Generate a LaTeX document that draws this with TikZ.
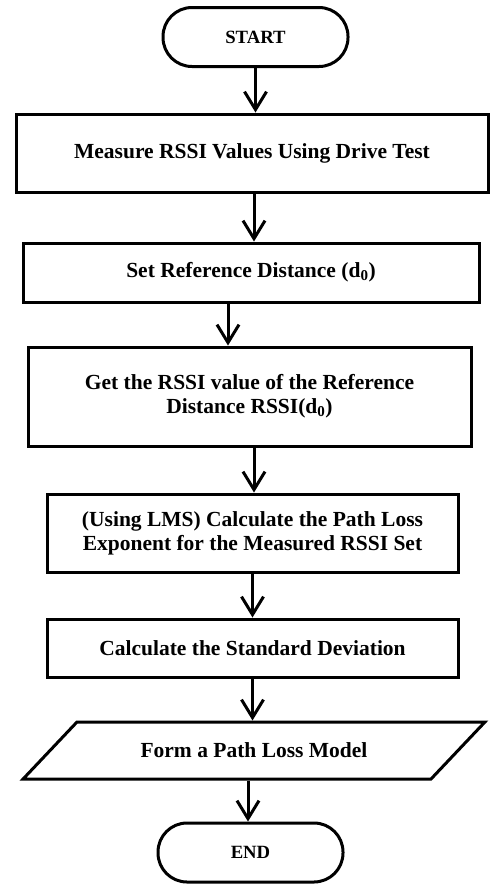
\documentclass[tikz,border=0pt]{standalone}
\usepackage{fontspec}
\setmainfont{Liberation Serif}
\usetikzlibrary{positioning,arrows.meta,shapes.geometric}

\tikzset{
  terminal/.style={draw, line width=3pt, rounded corners=29pt, minimum width=185pt, minimum height=59pt, font=\fontsize{18.7}{21}\selectfont\bfseries},
  process/.style={draw, line width=3pt, align=center, font=\fontsize{21.5}{24}\selectfont\bfseries},
  io/.style={draw, line width=3pt, trapezium, trapezium left angle=31.5, trapezium right angle=148.5, trapezium stretches=true, minimum width=462pt, minimum height=57pt, font=\fontsize{21.5}{24}\selectfont\bfseries},
  flow/.style={line width=3pt, -{Straight Barb[length=18pt,width=22pt]}}
}

\begin{document}
\begin{tikzpicture}[x=1pt,y=-1pt]
\useasboundingbox (0,0) rectangle (490,884);

% nodes
\node[terminal] (start) at (255.5,37) {START};
\node[process, minimum width=472pt, minimum height=78pt] (measure) at (252,153) {Measure RSSI Values Using Drive Test};
\node[process, minimum width=456pt, minimum height=59pt] (refdist) at (251,272.5) {Set Reference Distance (d\textsubscript{0})};
\node[process, minimum width=443pt, minimum height=99pt] (refrssi) at (249.5,396.5) {Get the RSSI value of the Reference\\Distance RSSI(d\textsubscript{0})};
\node[process, minimum width=411pt, minimum height=78pt] (exponent) at (252.5,533) {(Using LMS) Calculate the Path Loss\\Exponent for the Measured RSSI Set};
\node[process, minimum width=411pt, minimum height=58pt] (stddev) at (252.5,648) {Calculate the Standard Deviation};
\node[io] (model) at (254,750.5) {Form a Path Loss Model};
\node[terminal] (end) at (250.5,852.5) {END};

% connectors
\draw[flow] (start.south) -- (start.south |- measure.north);
\draw[flow] ([xshift=2pt]measure.south) -- ([xshift=2pt]measure.south |- refdist.north);
\draw[flow] ([xshift=-23pt]refdist.south) -- ([xshift=-23pt]refdist.south |- refrssi.north);
\draw[flow] ([xshift=4.5pt]refrssi.south) -- ([xshift=4.5pt]refrssi.south |- exponent.north);
\draw[flow] (exponent.south) -- (exponent.south |- stddev.north);
\draw[flow] (stddev.south) -- (stddev.south |- model.north);
\draw[flow] ([xshift=-2.5pt]end.north |- model.south) -- ([xshift=-2.5pt]end.north);
\end{tikzpicture}
\end{document}
